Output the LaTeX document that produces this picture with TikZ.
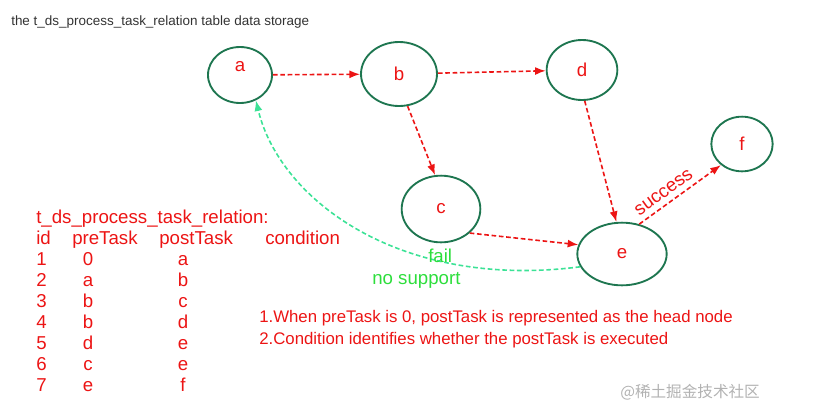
\documentclass[tikz,border=0pt]{standalone}
\usepackage{fontspec}
\setmainfont{Liberation Sans}
\newfontfamily\cjkfont{Noto Sans CJK SC}
\usepackage{xcolor}
\usepackage{tikz}
\usetikzlibrary{shapes.geometric, arrows.meta, positioning}
\definecolor{taskgreen}{RGB}{30, 118, 80}
\definecolor{taskred}{RGB}{236, 20, 20}
\definecolor{failgreen}{RGB}{45, 222, 60}
\definecolor{curvegreen}{RGB}{60, 226, 150}

\begin{document}
\begin{tikzpicture}[
    x=0.75pt, y=-0.75pt,
    task/.style={ellipse, draw=taskgreen, line width=1.4pt, inner sep=0pt,
                 text=taskred, font=\fontsize{14}{16}\selectfont},
    arrow/.style={-{Latex[length=8pt,width=6pt]}, draw=taskred, line width=1.2pt,
                  dash pattern=on 3.5pt off 2pt},
    redtext/.style={text=taskred, font=\fontsize{14}{16}\selectfont, inner sep=0pt},
    greentext/.style={text=failgreen, font=\fontsize{14}{16}\selectfont, inner sep=0pt}
]
    \useasboundingbox (0,0) rectangle (838,415);

    % Title
    \node[anchor=base west, inner sep=0pt, text=black!80, font=\fontsize{10.1}{12}\selectfont]
        (title) at (11,25) {the t\_ds\_process\_task\_relation table data storage};

    % Tasks
    \node[task, minimum width=48pt, minimum height=42pt,
          label={[text=taskred, font=\fontsize{14}{16}\selectfont, yshift=6pt]center:a}] (a) at (240,75) {};
    \node[task, minimum width=57pt, minimum height=48pt] (b) at (399,74) {b};
    \node[task, minimum width=53pt, minimum height=45pt] (d) at (582,70) {d};
    \node[task, minimum width=59pt, minimum height=50pt] (c) at (441,209) {c};
    \node[task, minimum width=67pt, minimum height=47pt] (e) at (622,254) {e};
    \node[task, minimum width=46pt, minimum height=41pt] (f) at (742,144) {f};

    % Arrows
    \draw[arrow] (a) -- (b);
    \draw[arrow] (b) -- (d);
    \draw[arrow] (b.-75) -- (c.100);
    \draw[arrow] (d.-85) -- (e.100);
    \draw[arrow] (c.-40) -- (e.168);
    \draw[arrow] (e.60) -- node[redtext, sloped, above=4pt, pos=0.38] (success) {success} (f.225);
    \draw[-{Latex[length=8pt,width=6pt]}, curvegreen, line width=1.2pt, dash pattern=on 3.5pt off 2pt]
        (e.197) .. controls (400,290) and (280,200) .. (a.-58);

    % Labels on the curve
    \node[greentext, anchor=base west] (fail) at (428,262) {fail};
    \node[greentext, anchor=base west] (nosupport) at (372,284) {no support};

    % Relation table
    \node[redtext, anchor=base west] (tname) at (36,223) {t\_ds\_process\_task\_relation:};
    \node[redtext, anchor=base west] (hid) at (36,244) {id};
    \node[redtext, anchor=base west] (hpre) at (72,244) {preTask};
    \node[redtext, anchor=base west] (hpost) at (159,244) {postTask};
    \node[redtext, anchor=base west] (hcond) at (265,244) {condition};
    \foreach \id/\pre/\post [count=\k] in {1/0/a, 2/a/b, 3/b/c, 4/b/d, 5/d/e, 6/c/e, 7/e/f} {
        \node[redtext, anchor=base west] (id\k) at (36,244+21*\k) {\id};
        \node[redtext, anchor=base] (pre\k) at (88,244+21*\k) {\pre};
        \node[redtext, anchor=base] (post\k) at (183,244+21*\k) {\post};
    }

    % Notes
    \node[redtext, anchor=base west, font=\fontsize{12.6}{15}\selectfont] (note1) at (259,322)
        {1.When preTask is 0, postTask is represented as the head node};
    \node[redtext, anchor=base west, font=\fontsize{12.6}{15}\selectfont] (note2) at (259,344)
        {2.Condition identifies whether the postTask is executed};

    % Watermark
    \node[anchor=base west, inner sep=0pt, text=black!30, font=\cjkfont\fontsize{11.7}{14}\selectfont]
        (mark) at (620,397) {@稀土掘金技术社区};
\end{tikzpicture}
\end{document}
